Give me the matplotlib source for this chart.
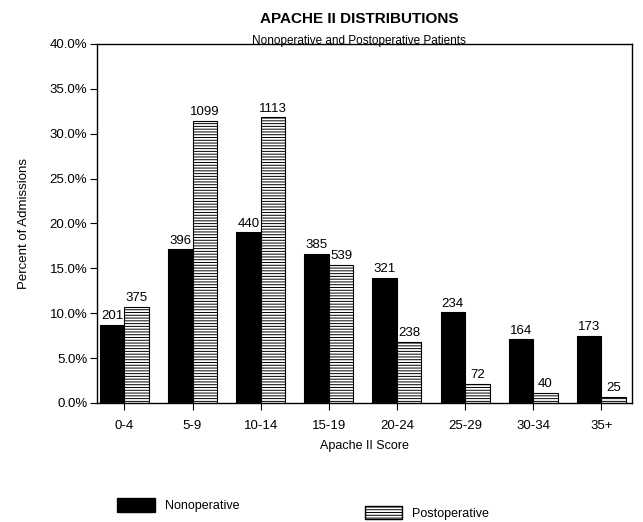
import matplotlib
matplotlib.use("Agg")
import matplotlib.pyplot as plt
import numpy as np
from matplotlib.patches import Patch

plt.rcParams["font.family"] = ["Liberation Sans", "DejaVu Sans"]
plt.rcParams["hatch.linewidth"] = 0.7

# data
score_bins = ["0-4", "5-9", "10-14", "15-19", "20-24", "25-29", "30-34", "35+"]
nonop_pct = [8.7, 17.1, 19.0, 16.6, 13.9, 10.1, 7.1, 7.5]
postop_pct = [10.7, 31.4, 31.8, 15.4, 6.8, 2.1, 1.1, 0.7]
nonop_n = [201, 396, 440, 385, 321, 234, 164, 173]
postop_n = [375, 1099, 1113, 539, 238, 72, 40, 25]
y_ticks = [0, 5, 10, 15, 20, 25, 30, 35, 40]

fig = plt.figure(figsize=(6.43, 5.22), dpi=100)
ax = fig.add_axes([0.151, 0.228, 0.832, 0.688])

x = np.arange(len(score_bins))
w = 0.36
b1 = ax.bar(x - w / 2, nonop_pct, w, color="black", edgecolor="black", linewidth=0.8)
b2 = ax.bar(x + w / 2, postop_pct, w, color="white", edgecolor="black",
            linewidth=0.8, hatch="------")

for rect, n in zip(b1, nonop_n):
    ax.text(rect.get_x() + rect.get_width() / 2, rect.get_height() + 0.3, str(n),
            ha="center", va="bottom", fontsize=9.5)
for rect, n in zip(b2, postop_n):
    ax.text(rect.get_x() + rect.get_width() / 2, rect.get_height() + 0.3, str(n),
            ha="center", va="bottom", fontsize=9.5)

ax.set_xlim(-0.4, 7.45)
ax.set_ylim(0, 40)
ax.set_yticks(y_ticks)
ax.set_yticklabels([f"{v:.1f}%" for v in y_ticks], fontsize=9.5)
ax.set_xticks(x)
ax.set_xticklabels(score_bins, fontsize=9.5)
ax.tick_params(axis="x", length=5, pad=7)
ax.tick_params(axis="y", length=5, pad=2)
for s in ax.spines.values():
    s.set_linewidth(1.0)

ax.set_xlabel("Apache II Score", fontsize=9, labelpad=6)
ax.set_ylabel("Percent of Admissions", fontsize=9.5, labelpad=14)

fig.text(0.558, 0.963, "APACHE II DISTRIBUTIONS", ha="center", va="center",
         fontsize=11, fontweight="bold")
fig.text(0.558, 0.922, "Nonoperative and Postoperative Patients", ha="center",
         va="center", fontsize=8.5)

fig.legend(handles=[Patch(facecolor="black", edgecolor="black")], labels=["Nonoperative"],
           loc="center left", bbox_to_anchor=(0.165, 0.032), frameon=False, fontsize=9,
           handlelength=3, handleheight=1.3)
fig.legend(handles=[Patch(facecolor="white", edgecolor="black", hatch="------")],
           labels=["Postoperative"], loc="center left", bbox_to_anchor=(0.55, 0.018),
           frameon=False, fontsize=9, handlelength=3, handleheight=1.3)

fig.savefig("out.png", dpi=100)
